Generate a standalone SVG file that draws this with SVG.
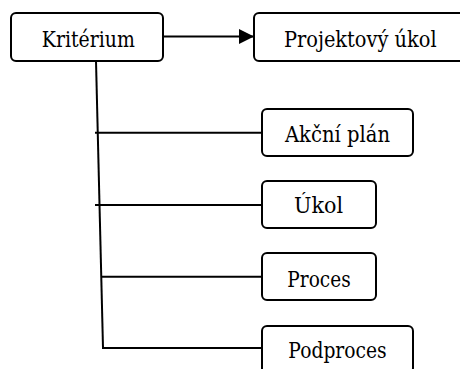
<svg xmlns="http://www.w3.org/2000/svg" width="460" height="369" viewBox="0 0 460 369">
  <style>
    .box { fill: #fff; stroke: #000; stroke-width: 2; }
    .lbl { font-family: "DejaVu Serif", serif; font-size: 21.6px; fill: #000; text-anchor: middle; }
    .ln { fill: none; stroke: #000; stroke-width: 2; }
  </style>
  <defs>
    <marker id="arrow" markerUnits="userSpaceOnUse" markerWidth="16" markerHeight="16" refX="15" refY="7.5" orient="auto">
      <path d="M0,0 L15,7.5 L0,15 Z" fill="#000"/>
    </marker>
  </defs>

  <g id="connectors">
    <line class="ln" x1="163" y1="36.5" x2="254" y2="36.5" marker-end="url(#arrow)"/>
    <line class="ln" x1="96" y1="61" x2="103" y2="348"/>
    <line class="ln" x1="95" y1="132.7" x2="262" y2="132.7"/>
    <line class="ln" x1="95" y1="205" x2="262" y2="205"/>
    <line class="ln" x1="101" y1="276.7" x2="262" y2="276.7"/>
    <line class="ln" x1="102" y1="348" x2="262" y2="348"/>
  </g>

  <g id="kriterium">
    <rect class="box" x="11" y="13" width="152" height="48" rx="5"/>
    <text class="lbl" x="88.3" y="46.5" textLength="93" lengthAdjust="spacingAndGlyphs">Kritérium</text>
  </g>
  <g id="projektovy-ukol">
    <rect class="box" x="254" y="13" width="212" height="48" rx="5"/>
    <text class="lbl" x="360.3" y="46.5" textLength="152.7" lengthAdjust="spacingAndGlyphs">Projektový úkol</text>
  </g>
  <g id="akcni-plan">
    <rect class="box" x="262" y="109" width="151" height="47" rx="5"/>
    <text class="lbl" x="337.5" y="142.3" textLength="105" lengthAdjust="spacingAndGlyphs">Akční plán</text>
  </g>
  <g id="ukol">
    <rect class="box" x="262" y="181" width="114" height="47" rx="5"/>
    <text class="lbl" x="318.5" y="213.3" textLength="49" lengthAdjust="spacingAndGlyphs">Úkol</text>
  </g>
  <g id="proces">
    <rect class="box" x="262" y="253" width="114" height="47" rx="5"/>
    <text class="lbl" x="319" y="286.5" textLength="63.3" lengthAdjust="spacingAndGlyphs">Proces</text>
  </g>
  <g id="podproces">
    <rect class="box" x="262" y="326" width="151" height="47" rx="5"/>
    <text class="lbl" x="337.5" y="358.3" textLength="98.3" lengthAdjust="spacingAndGlyphs">Podproces</text>
  </g>
</svg>
